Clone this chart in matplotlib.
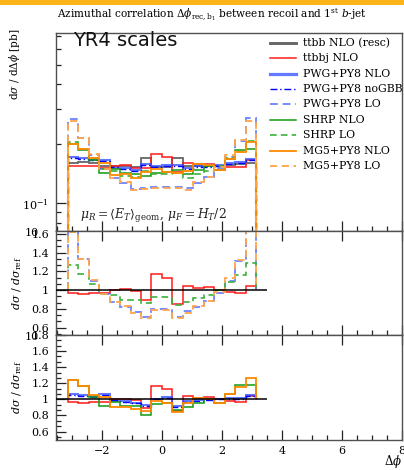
import numpy as np
import matplotlib
matplotlib.use("Agg")
import matplotlib.pyplot as plt
from matplotlib.ticker import MultipleLocator, FuncFormatter, LogLocator, NullFormatter, FixedLocator
from matplotlib.patches import Rectangle
from matplotlib.lines import Line2D

plt.rcParams['font.family'] = 'DejaVu Serif'
plt.rcParams['mathtext.fontset'] = 'dejavuserif'

# ---------------- data ----------------
n_bins = 18
phi_lo, phi_hi = -np.pi, np.pi

ref_ttbb_nlo = [0.160, 0.161, 0.160, 0.155, 0.154, 0.154, 0.153, 0.169, 0.152,
                0.152, 0.170, 0.154, 0.155, 0.154, 0.155, 0.156, 0.158, 0.160]

ratio_ttbbj_nlo = [0.97, 0.96, 0.97, 0.97, 1.00, 1.01, 0.99, 0.89, 1.17,
                   1.13, 0.85, 1.04, 1.02, 1.03, 1.00, 0.975, 0.97, 1.04]
ratio_pwg_nlo = [1.07, 1.05, 1.04, 1.07, 0.98, 0.98, 0.96, 0.93, 1.01,
                 1.03, 0.92, 0.98, 0.99, 1.01, 1.01, 1.02, 1.02, 1.05]
ratio_pwg_nogbb = [1.06, 1.04, 1.03, 1.06, 0.99, 0.97, 0.95, 0.92, 1.00,
                   1.02, 0.91, 0.97, 0.98, 0.99, 1.00, 1.01, 1.01, 1.04]
ratio_pwg_lo = [1.67, 1.33, 1.10, 0.96, 0.87, 0.82, 0.77, 0.71, 0.80,
                0.80, 0.71, 0.78, 0.82, 0.88, 0.97, 1.10, 1.31, 1.68]
ratio_shrp_nlo = [1.245, 1.16, 1.03, 0.92, 0.97, 0.92, 0.92, 0.81, 0.94,
                  0.95, 0.87, 0.91, 0.95, 1.00, 0.95, 1.07, 1.175, 1.175]
ratio_shrp_lo = [1.27, 1.17, 1.06, 0.96, 0.95, 0.89, 0.89, 0.86, 0.93,
                 0.93, 0.84, 0.875, 0.91, 0.95, 1.00, 1.09, 1.16, 1.29]
ratio_mg5_nlo = [1.245, 1.17, 1.06, 1.03, 0.90, 0.91, 0.88, 0.85, 0.98,
                 0.95, 0.84, 0.95, 1.02, 1.01, 0.95, 1.07, 1.15, 1.27]
ratio_mg5_lo = [1.62, 1.33, 1.11, 0.96, 0.875, 0.83, 0.76, 0.70, 0.79,
                0.79, 0.70, 0.76, 0.83, 0.88, 0.98, 1.125, 1.32, 1.63]

labels = ["ttbb NLO (resc)", "ttbbj NLO", "PWG+PY8 NLO", "PWG+PY8 noGBB",
          "PWG+PY8 LO", "SHRP NLO", "SHRP LO", "MG5+PY8 NLO", "MG5+PY8 LO"]
x_ticks = [-2, 0, 2, 4, 6, 8]

edges = np.linspace(phi_lo, phi_hi, n_bins + 1)
ref = np.array(ref_ttbb_nlo)

styles = {
    "ttbb NLO (resc)": dict(color='black', ls='-', lw=1.3, alpha=0.6),
    "ttbbj NLO":       dict(color='#ff1a1a', ls='-', lw=1.1, alpha=1.0),
    "PWG+PY8 NLO":     dict(color='#2f4cff', ls='-', lw=1.5, alpha=0.75),
    "PWG+PY8 noGBB":   dict(color='#0000ff', ls=(0, (5, 2, 1, 2)), lw=1.0, alpha=1.0),
    "PWG+PY8 LO":      dict(color='#4a66ff', ls=(0, (4, 2.5)), lw=1.4, alpha=0.75),
    "SHRP NLO":        dict(color='#139a13', ls='-', lw=1.1, alpha=1.0),
    "SHRP LO":         dict(color='#3cb03c', ls=(0, (4, 2.5)), lw=1.2, alpha=1.0),
    "MG5+PY8 NLO":     dict(color='#ff8a00', ls='-', lw=1.3, alpha=1.0),
    "MG5+PY8 LO":      dict(color='#ffa54a', ls=(0, (4, 2.5)), lw=1.3, alpha=1.0),
}
ratios = {
    "ttbb NLO (resc)": np.ones(n_bins),
    "ttbbj NLO": np.array(ratio_ttbbj_nlo),
    "PWG+PY8 NLO": np.array(ratio_pwg_nlo),
    "PWG+PY8 noGBB": np.array(ratio_pwg_nogbb),
    "PWG+PY8 LO": np.array(ratio_pwg_lo),
    "SHRP NLO": np.array(ratio_shrp_nlo),
    "SHRP LO": np.array(ratio_shrp_lo),
    "MG5+PY8 NLO": np.array(ratio_mg5_nlo),
    "MG5+PY8 LO": np.array(ratio_mg5_lo),
}

# ---------------- figure ----------------
W, H = 404, 470
fig = plt.figure(figsize=(W / 100, H / 100), dpi=100)

def px_axes(x0, y0, x1, y1):
    return fig.add_axes([x0 / W, 1 - y1 / H, (x1 - x0) / W, (y1 - y0) / H])

ax_m = px_axes(56, 33, 402, 231)
ax_r1 = px_axes(56, 231, 402, 335)
ax_r2 = px_axes(56, 335, 402, 440)

spine_col = '#505050'
for ax in (ax_m, ax_r1, ax_r2):
    ax.set_xlim(-3.53, 8.0)
    for s in ax.spines.values():
        s.set_color(spine_col)
        s.set_linewidth(1.0)
    ax.xaxis.set_major_locator(FixedLocator(x_ticks))
    ax.xaxis.set_minor_locator(MultipleLocator(0.5))
    ax.tick_params(which='both', direction='in', color='#222222', width=0.9,
                   labelsize=8)
    ax.tick_params(which='major', length=7.5)
    ax.tick_params(which='minor', length=3.8)

# main panel
for name in labels:
    st = styles[name]
    vals = ref * ratios[name]
    ax_m.stairs(vals, edges, baseline=1e-3, color=st['color'], linestyle=st['ls'],
                linewidth=st['lw'], alpha=st['alpha'])
ax_m.set_yscale('log')
ax_m.set_ylim(0.0725, 0.724)
ax_m.yaxis.set_major_locator(LogLocator(base=10, numticks=10))
ax_m.yaxis.set_minor_locator(LogLocator(base=10, subs=np.arange(2, 10), numticks=20))
ax_m.yaxis.set_minor_formatter(NullFormatter())
ax_m.tick_params(axis='x', labelbottom=False, top=False, bottom=True)
ax_m.tick_params(axis='y', pad=5)

# ratio panels
fmt = FuncFormatter(lambda v, _: ('%g' % round(v, 2)))
panel1 = ["ttbbj NLO", "PWG+PY8 LO", "SHRP LO", "MG5+PY8 LO"]
panel2 = ["ttbbj NLO", "PWG+PY8 NLO", "PWG+PY8 noGBB", "SHRP NLO", "MG5+PY8 NLO"]
for ax, names, ylim in ((ax_r1, panel1, (0.52, 1.63)), (ax_r2, panel2, (0.495, 1.80))):
    for name in names:
        st = styles[name]
        ax.stairs(ratios[name], edges, baseline=1.0, color=st['color'],
                  linestyle=st['ls'], linewidth=st['lw'], alpha=st['alpha'])
    ax.hlines(1.0, -3.53, 3.5, color='black', lw=1.1, zorder=5)
    ax.set_ylim(*ylim)
    ax.yaxis.set_major_locator(MultipleLocator(0.2))
    ax.yaxis.set_minor_locator(MultipleLocator(0.2 / 3))
    ax.yaxis.set_major_formatter(fmt)
    ax.tick_params(axis='x', top=True, bottom=True, labelbottom=False)
    ax.tick_params(axis='y', pad=5)

ax_r2.tick_params(axis='x', labelbottom=True, pad=4)

# ---------------- overlay texts ----------------
ov = fig.add_axes([0, 0, 1, 1], zorder=10)
ov.set_xlim(0, W)
ov.set_ylim(H, 0)
ov.axis('off')
ov.patch.set_alpha(0)

ov.add_patch(Rectangle((0, 0), W, 5, color='#fbb417', lw=0))
ov.text(57, 14.5, r'Azimuthal correlation $\Delta\phi_{\mathrm{rec,b}_1}$ between recoil and 1$^{\mathrm{st}}$ $b$-jet',
        fontsize=7.6, va='center', ha='left')
ov.text(73, 31.5, 'YR4 scales', family='DejaVu Sans', fontsize=14, va='top', ha='left',
        color='#111111')
ov.text(80, 216, r'$\mu_R = \langle E_T\rangle_{\mathrm{geom}},\,\mu_F = H_T/2$',
        fontsize=8.9, va='center', ha='left', color='#222222')

ov.text(15, 28, r'd$\sigma$ / d$\Delta\phi$ [pb]', rotation=90, fontsize=7.6,
        va='top', ha='center')
ov.text(17, 283, r'$d\sigma\ /\ d\sigma_{\mathrm{ref}}$', rotation=90, fontsize=8.0,
        va='center', ha='center')
ov.text(17, 387, r'$d\sigma\ /\ d\sigma_{\mathrm{ref}}$', rotation=90, fontsize=8.0,
        va='center', ha='center')
ov.text(402, 461, r'$\Delta\phi$', fontsize=8.5, va='center', ha='right')
# overlapping leftover tick labels at panel junctions
ov.text(25, 233.5, '10', fontsize=8, va='center', ha='left')
ov.text(25, 337, '10', fontsize=8, va='center', ha='left')

# legend
leg_y0, leg_dy = 42.8, 15.4
for i, name in enumerate(labels):
    st = styles[name]
    y = leg_y0 + i * leg_dy
    lw = st['lw'] + (0.8 if name in ("ttbb NLO (resc)", "PWG+PY8 NLO") else 0)
    ov.add_line(Line2D([270, 296], [y, y], color=st['color'], linestyle=st['ls'],
                       linewidth=lw, alpha=st['alpha']))
    ov.text(303, y, name, fontsize=7.8, va='center', ha='left')

fig.savefig('out.png', dpi=100)
